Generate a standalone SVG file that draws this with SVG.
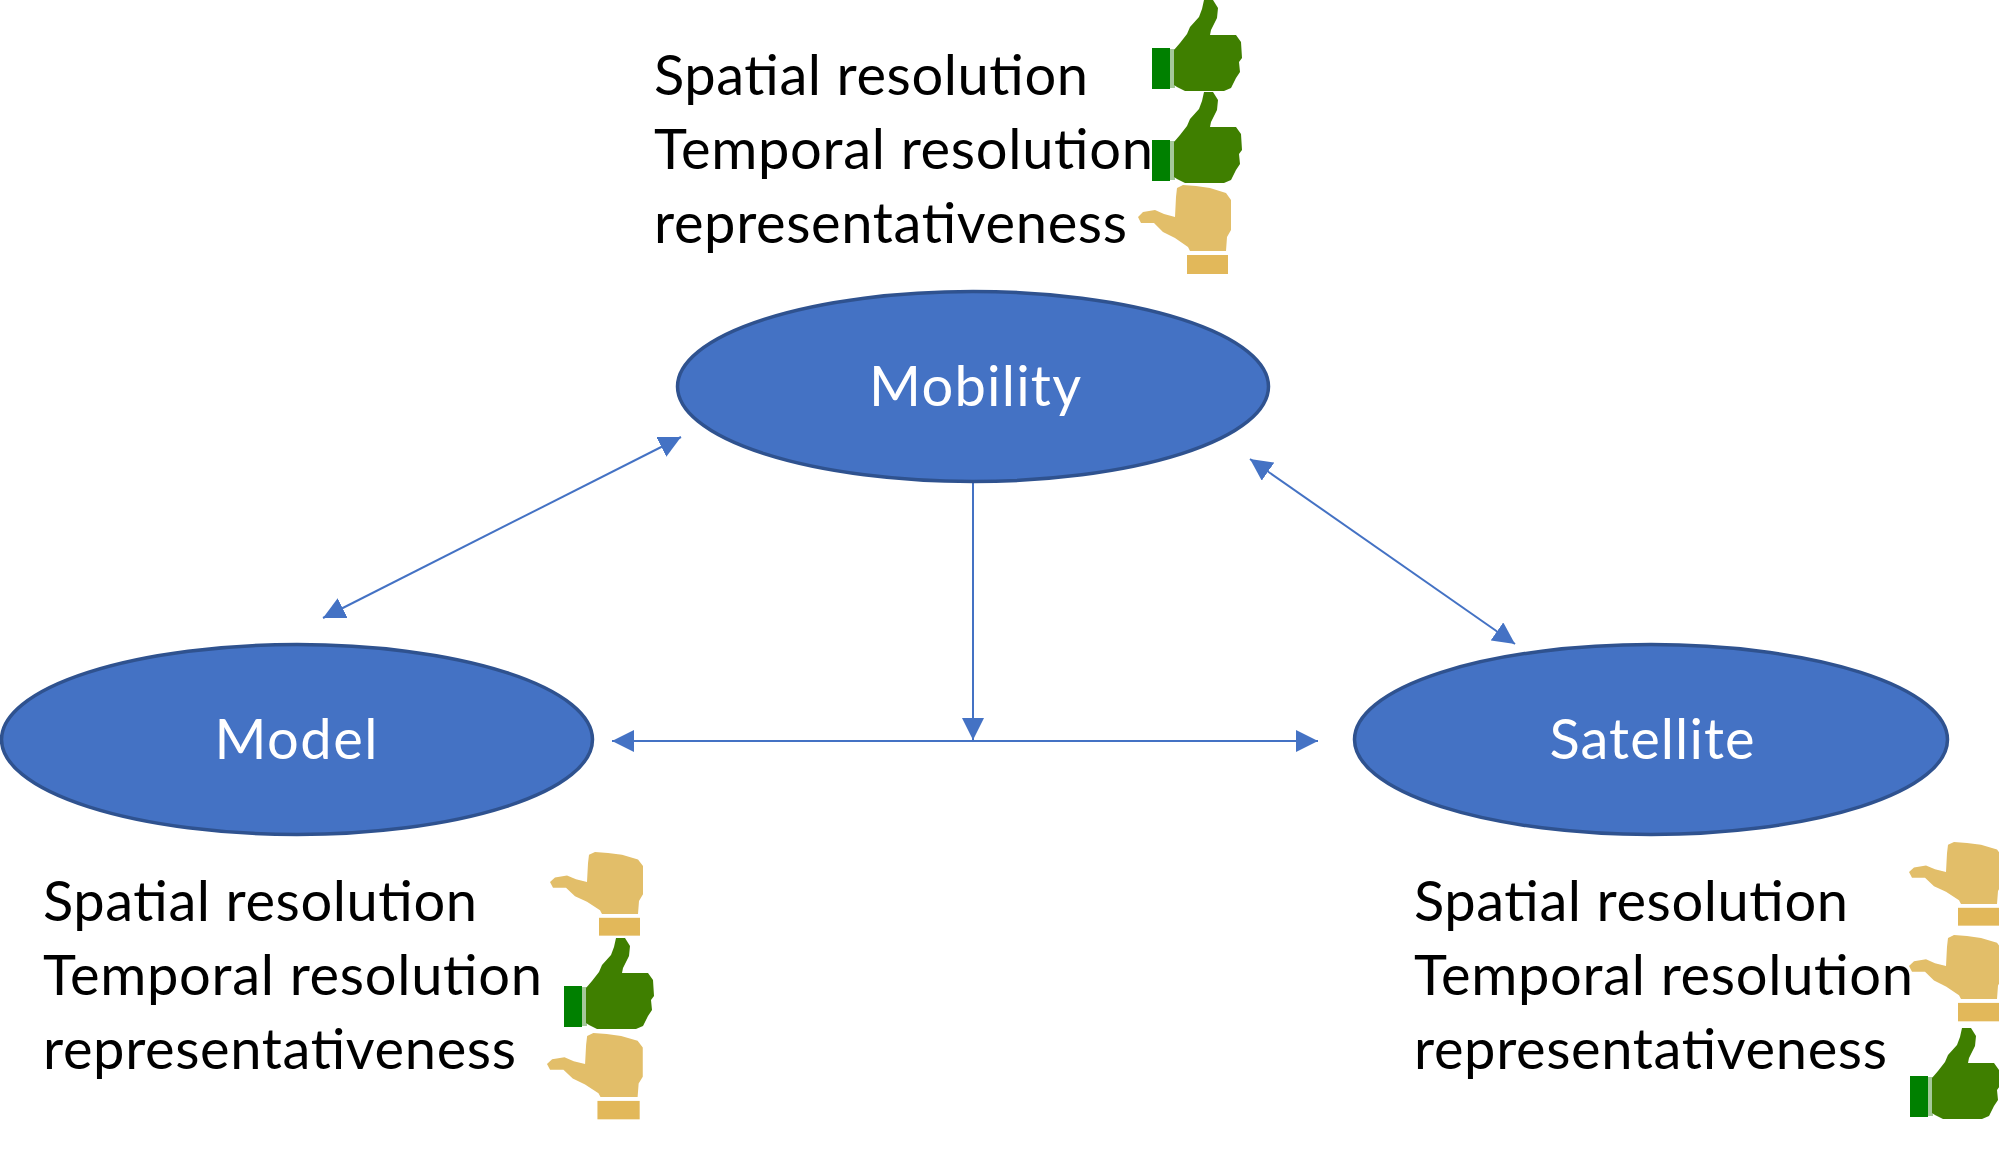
<svg xmlns="http://www.w3.org/2000/svg" width="1999" height="1173" viewBox="0 0 1999 1173">
<style>
.e{fill:#4472C4;stroke:#2F528F;stroke-width:3.500}
.n{font-family:"Lato","Carlito","Liberation Sans",sans-serif;font-size:56px;fill:#fff;text-anchor:middle}
.t{font-family:"Lato","Carlito","Liberation Sans",sans-serif;font-size:56px;fill:#000}
.c{fill:none;stroke:#4472C4;stroke-width:2;marker-start:url(#a);marker-end:url(#a)}
.c2{fill:none;stroke:#4472C4;stroke-width:2;marker-end:url(#a)}
</style>
<defs>
<marker id="a" viewBox="0 0 10 10" refX="10" refY="5" markerWidth="11" markerHeight="11" orient="auto-start-reverse"><path d="M0 0L10 5L0 10Z" fill="#4472C4"/></marker>
<g id="up"><rect x="0" y="48" width="18" height="41" fill="#008000"/><rect x="18" y="49" width="5" height="39" fill="#A5C89A"/><path d="M22 50L28 43L35 34L38 27L47 17L50 9L52 0L61 0L66 8L65 18L59 30L58 35L84 35L89 42L90 58L87 62L88 72L84 78L79 88L72 91L33 91L25 87L22 85Z" fill="#3F7F00"/></g>
<g id="side"><path d="M38 3L44 0L57 1L71 3L87 8L92 15L92 45L88 52L87 66L51 66L49 62L36 53L24 47L15 38L2 38L-1 32L4 27L16 25L25 29L36 32L37 12Z" fill="#E2BE69"/><rect x="48" y="70" width="41" height="19" fill="#E2B85A"/></g>
</defs>
<g id="connectors">
<line class="c" x1="323" y1="618" x2="681" y2="437"/>
<line class="c" x1="1250" y1="459" x2="1515" y2="644"/>
<line class="c2" x1="973" y1="482" x2="973" y2="740"/>
<line class="c" x1="612" y1="741" x2="1318" y2="741"/>
</g>
<g id="mobility"><ellipse class="e" cx="973" cy="386.500" rx="295.500" ry="95"/><text class="n" x="975" y="406" textLength="212">Mobility</text></g>
<g id="model"><ellipse class="e" cx="297" cy="739.500" rx="295.500" ry="95"/><text class="n" x="296" y="759" textLength="163">Model</text></g>
<g id="satellite"><ellipse class="e" cx="1651" cy="739.500" rx="296.500" ry="95"/><text class="n" x="1652" y="759" textLength="205">Satellite</text></g>
<g id="mobility-notes">
<text class="t" x="654" y="95" textLength="434">Spatial resolution</text>
<text class="t" x="654" y="169" textLength="499">Temporal resolution</text>
<text class="t" x="654" y="243" textLength="473">representativeness</text>
<use href="#up" x="1152" y="0"/><use href="#up" x="1152" y="92"/><use href="#side" x="1139" y="185"/>
</g>
<g id="model-notes">
<text class="t" x="43" y="921" textLength="434">Spatial resolution</text>
<text class="t" x="43" y="995" textLength="499">Temporal resolution</text>
<text class="t" x="43" y="1069" textLength="473">representativeness</text>
<use href="#side" transform="translate(551 852) scale(1 .94)"/><use href="#up" x="564" y="938"/><use href="#side" transform="translate(548 1033) scale(1.03 .97)"/>
</g>
<g id="satellite-notes">
<text class="t" x="1414" y="921" textLength="434">Spatial resolution</text>
<text class="t" x="1414" y="995" textLength="499">Temporal resolution</text>
<text class="t" x="1414" y="1069" textLength="473">representativeness</text>
<use href="#side" transform="translate(1910 842) scale(1 .94)"/><use href="#side" transform="translate(1910 935) scale(1 .97)"/><use href="#up" x="1910" y="1028"/>
</g>
</svg>
